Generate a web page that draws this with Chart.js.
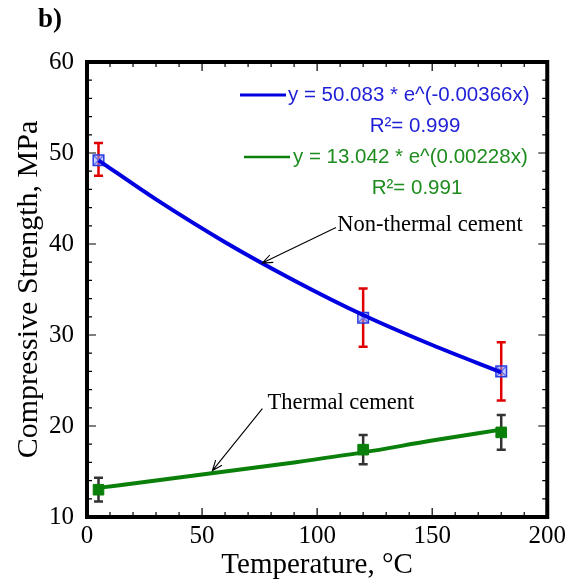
<!DOCTYPE html>
<html>
<head>
<meta charset="utf-8">
<script src="https://cdn.jsdelivr.net/npm/chart.js@4/dist/chart.umd.min.js"></script>
<style>
  html, body { margin:0; padding:0; background:#fff; }
  #wrap { width:570px; height:586px; }
</style>
</head>
<body>
<div id="wrap"><canvas id="chart" width="570" height="586"></canvas></div>
<script>
// ── Data ────────────────────────────────────────────────────
const tempC          = [5, 120, 180];
const nonThermal     = [49.2, 31.9, 26.0];
const nonThermalLo   = [47.5, 28.7, 22.8];
const nonThermalHi   = [51.1, 35.1, 29.2];
const thermal        = [13.0, 17.4, 19.3];
const thermalLo      = [11.7, 15.8, 17.4];
const thermalHi      = [14.3, 19.0, 21.2];
const fitX           = [5, 30, 60, 90, 120, 150, 180];
const fitNonThermal  = [49.2, 44.9, 40.2, 36.0, 32.2, 28.9, 25.9];
const fitThermal     = [13.2, 14.0, 15.0, 16.0, 17.1, 18.4, 19.6];
const xTickVals      = [0, 50, 100, 150, 200];
const yTickVals      = [10, 20, 30, 40, 50, 60];
const fitLabels      = ['y = 50.083 * e^(-0.00366x)', 'R²= 0.999', 'y = 13.042 * e^(0.00228x)', 'R²= 0.991'];

const C = { blue:'#0000e0', blueTxt:'#1f1fd6', green:'#0a800a', greenTxt:'#1e8c1e', red:'#e00000', bar:'#333333' };
const SERIF = '"Liberation Serif", "Times New Roman", serif';
const SANS  = '"Liberation Sans", Arial, sans-serif';

const pts = (xs, ys) => xs.map((x, i) => ({ x, y: ys[i] }));

// ── Plugins ────────────────────────────────────────────────
const errorBars = {
  id: 'errorBars',
  beforeDatasetsDraw(chart) {
    const { ctx, scales: { x, y } } = chart;
    const draw = (lo, hi, color) => {
      ctx.save();
      ctx.strokeStyle = color; ctx.lineWidth = 2.5;
      tempC.forEach((t, i) => {
        const px = x.getPixelForValue(t), y1 = y.getPixelForValue(lo[i]), y2 = y.getPixelForValue(hi[i]);
        ctx.beginPath();
        ctx.moveTo(px, y1); ctx.lineTo(px, y2);
        ctx.moveTo(px - 4.5, y1); ctx.lineTo(px + 4.5, y1);
        ctx.moveTo(px - 4.5, y2); ctx.lineTo(px + 4.5, y2);
        ctx.stroke();
      });
      ctx.restore();
    };
    draw(nonThermalLo, nonThermalHi, C.red);
    draw(thermalLo, thermalHi, C.bar);
  }
};

function arrow(ctx, x1, y1, x2, y2) {
  const a = Math.atan2(y2 - y1, x2 - x1), L = 11, w = 0.38;
  ctx.beginPath();
  ctx.moveTo(x1, y1); ctx.lineTo(x2, y2);
  ctx.moveTo(x2 - L * Math.cos(a - w), y2 - L * Math.sin(a - w));
  ctx.lineTo(x2, y2);
  ctx.lineTo(x2 - L * Math.cos(a + w), y2 - L * Math.sin(a + w));
  ctx.stroke();
}

const decor = {
  id: 'decor',
  afterDraw(chart) {
    const { ctx, chartArea: a, scales: { x, y } } = chart;
    ctx.save();
    // frame
    ctx.strokeStyle = '#000'; ctx.lineWidth = 4;
    ctx.strokeRect(a.left, a.top, a.right - a.left, a.bottom - a.top);
    // inward ticks on all four sides
    ctx.lineWidth = 1.2;
    ctx.beginPath();
    for (let v = 0; v <= 200; v += 10) {
      const px = x.getPixelForValue(v), len = v % 50 === 0 ? 9 : 5;
      ctx.moveTo(px, a.bottom); ctx.lineTo(px, a.bottom - len);
      ctx.moveTo(px, a.top);    ctx.lineTo(px, a.top + len);
    }
    for (let v = 10; v <= 60; v += 2) {
      const py = y.getPixelForValue(v), len = v % 10 === 0 ? 9 : 5;
      ctx.moveTo(a.left, py);  ctx.lineTo(a.left + len, py);
      ctx.moveTo(a.right, py); ctx.lineTo(a.right - len, py);
    }
    ctx.stroke();

    // panel label
    ctx.fillStyle = '#000'; ctx.font = 'bold 27px ' + SERIF;
    ctx.textBaseline = 'middle'; ctx.textAlign = 'left';
    ctx.fillText('b)', 38, 20);

    // fit legend
    ctx.font = '20.5px ' + SANS;
    ctx.strokeStyle = C.blue; ctx.lineWidth = 3;
    ctx.beginPath(); ctx.moveTo(240, 95); ctx.lineTo(286, 95); ctx.stroke();
    ctx.fillStyle = C.blueTxt;
    ctx.fillText(fitLabels[0], 288, 95);
    ctx.textAlign = 'center';
    ctx.fillText(fitLabels[1], 415, 126);
    ctx.strokeStyle = C.green; ctx.lineWidth = 2.5;
    ctx.beginPath(); ctx.moveTo(244, 157); ctx.lineTo(290, 157); ctx.stroke();
    ctx.fillStyle = C.greenTxt; ctx.textAlign = 'left';
    ctx.fillText(fitLabels[2], 293, 157);
    ctx.textAlign = 'center';
    ctx.fillText(fitLabels[3], 417, 188);

    // curve annotations
    ctx.strokeStyle = '#000'; ctx.lineWidth = 1.1; ctx.fillStyle = '#000';
    arrow(ctx, x.getPixelForValue(108.2), y.getPixelForValue(41.8), x.getPixelForValue(76.2), y.getPixelForValue(37.9));
    arrow(ctx, x.getPixelForValue(76.2), y.getPixelForValue(21.9), x.getPixelForValue(54.5), y.getPixelForValue(15.1));
    ctx.font = '22.5px ' + SERIF; ctx.textAlign = 'left';
    ctx.fillText('Non-thermal cement', x.getPixelForValue(108.7), y.getPixelForValue(42.1));
    ctx.fillText('Thermal cement', x.getPixelForValue(78.4), y.getPixelForValue(22.5));
    ctx.restore();
  }
};

// ── Chart ───────────────────────────────────────────────────
new Chart(document.getElementById('chart'), {
  type: 'scatter',
  data: {
    datasets: [
      { type:'line', data: pts(fitX, fitNonThermal), borderColor: C.blue, borderWidth: 4, pointRadius: 0, cubicInterpolationMode:'monotone', fill:false },
      { type:'line', data: pts(fitX, fitThermal), borderColor: C.green, borderWidth: 4, pointRadius: 0, cubicInterpolationMode:'monotone', fill:false },
      { data: pts(tempC, nonThermal), pointStyle:'rect', pointRadius: 7.5, backgroundColor:'rgba(150,160,255,0.55)', borderColor:'#2a3ee0', borderWidth: 1.5 },
      { data: pts(tempC, nonThermal), pointStyle:'crossRot', pointRadius: 6.5, borderColor:'#2a3ee0', borderWidth: 1.3 },
      { data: pts(tempC, thermal), pointStyle:'rect', pointRadius: 7.5, backgroundColor: C.green, borderColor: C.green, borderWidth: 1 },
    ]
  },
  options: {
    responsive: false,
    devicePixelRatio: 1,
    animation: false,
    layout: { padding: { top: 62, right: 21, left: 0, bottom: 0 } },
    plugins: { legend: { display: false }, tooltip: { enabled: false } },
    scales: {
      x: {
        type: 'linear', min: 0, max: 200,
        afterBuildTicks: s => { s.ticks = xTickVals.map(v => ({ value: v })); },
        afterFit: s => { s.height = 69; },
        grid: { display: false, drawTicks: false },
        border: { display: false },
        ticks: { color:'#000', font: { family: SERIF, size: 25 }, padding: 4 },
        title: { display: true, text: 'Temperature, °C', color:'#000', font: { family: SERIF, size: 29 }, padding: { top: 0, bottom: 3 } }
      },
      y: {
        type: 'linear', min: 10, max: 60,
        afterBuildTicks: s => { s.ticks = yTickVals.map(v => ({ value: v })); },
        afterFit: s => { s.width = 87; },
        grid: { display: false, drawTicks: false },
        border: { display: false },
        ticks: { color:'#000', font: { family: SERIF, size: 25 }, padding: 13 },
        title: { display: true, text: 'Compressive Strength, MPa', color:'#000', font: { family: SERIF, size: 30 }, padding: { top: 11, bottom: 0 } }
      }
    }
  },
  plugins: [errorBars, decor]
});
</script>
</body>
</html>
